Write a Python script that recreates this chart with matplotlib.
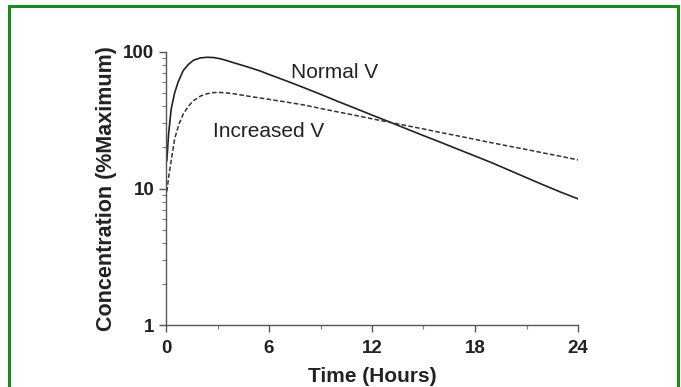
import matplotlib
matplotlib.use("Agg")
import matplotlib.pyplot as plt
from matplotlib.patches import Rectangle
from matplotlib.ticker import FixedLocator, NullFormatter, LogLocator

plt.rcParams['font.family'] = ['Liberation Sans', 'DejaVu Sans']

# Data
t_normal = [0.05, 0.15, 0.3, 0.5, 0.7, 1.0, 1.3, 1.6, 2.0, 2.4, 2.8, 3.2, 3.6, 4.0,
            4.5, 5.0, 5.5, 6, 7, 8, 9, 10, 11, 12, 13, 14, 15, 16, 17, 18, 19,
            20, 21, 22, 23, 24]
c_normal = [16, 25, 38, 50, 60, 73, 81, 87, 90.5, 91.5, 91, 89, 86, 83,
            79.5, 76, 72.5, 68.5, 61.5, 55, 49, 43.5, 38.8, 34.5, 30.8, 27.4, 24.4,
            21.8, 19.4, 17.3, 15.4, 13.6, 12, 10.6, 9.4, 8.4]

t_incr = [0.05, 0.15, 0.25, 0.5, 0.75, 1.0, 1.3, 1.6, 2.0, 2.4, 2.8, 3.2, 3.6, 4,
          5, 6, 7, 8, 9, 10, 11, 12, 13, 14, 15, 16, 17, 18, 19, 20, 21, 22, 23, 24]
c_incr = [9.5, 12, 14.5, 23, 29.5, 35, 40, 44, 47.5, 49.5, 50.5, 50.5, 50, 49.3,
          47, 45, 43, 41, 38.6, 36.4, 34.4, 32.4, 30.6, 28.9, 27.3, 25.7, 24.3,
          22.9, 21.6, 20.4, 19.3, 18.2, 17.2, 16.2]

x_ticks = [0, 6, 12, 18, 24]
x_minor = [3, 9, 15, 21]
y_ticks = [1, 10, 100]
y_ticklabels = ["1", "10", "100"]

fig = plt.figure(figsize=(6.81, 3.87), dpi=100)
fig.patch.set_facecolor('white')
fig.patches.append(Rectangle((9 / 681, -0.05), (678 - 9) / 681, 1.05 - 6 / 387,
                             transform=fig.transFigure, fill=False,
                             edgecolor='#1e8a1e', linewidth=2.2))

ax = fig.add_axes([166 / 681, 1 - 325 / 387, (578 - 166) / 681, (325 - 52) / 387])
ax.plot(t_normal, c_normal, color='#222222', lw=1.2, solid_joinstyle='round')
ax.plot(t_incr, c_incr, color='#333333', lw=1.1, linestyle=(0, (3, 1.5)))

ax.set_yscale('log')
ax.set_xlim(0, 24)
ax.set_ylim(1, 100)
for s in ['top', 'right']:
    ax.spines[s].set_visible(False)
for s in ['left', 'bottom']:
    ax.spines[s].set_color('#555555')
    ax.spines[s].set_linewidth(1.0)

ax.xaxis.set_major_locator(FixedLocator(x_ticks))
ax.xaxis.set_minor_locator(FixedLocator(x_minor))
ax.set_xticklabels([str(v) for v in x_ticks])
ax.yaxis.set_major_locator(FixedLocator(y_ticks))
ax.set_yticklabels(y_ticklabels)
ax.yaxis.set_minor_locator(LogLocator(base=10, subs=range(2, 10)))
ax.yaxis.set_minor_formatter(NullFormatter())

ax.tick_params(axis='both', which='major', direction='out', length=5, width=1.0,
               color='#555555', labelsize=13.5, labelcolor='#222222')
ax.tick_params(axis='x', which='major', pad=6)
ax.tick_params(axis='y', which='major', pad=3.5)
ax.tick_params(axis='both', which='minor', direction='out', length=3, width=0.8,
               color='#777777')
for lab in ax.get_xticklabels() + ax.get_yticklabels():
    lab.set_fontweight('bold')

ax.set_xlabel('Time (Hours)', fontsize=15, fontweight='bold', color='#222222', labelpad=7)
ax.set_ylabel('Concentration (%Maximum)', fontsize=15.5, fontweight='bold', color='#222222',
              labelpad=4.5)

ax.text(7.3, 71, 'Normal V', fontsize=15, color='#222222', va='center', ha='left')
ax.text(2.75, 26.2, 'Increased V', fontsize=15, color='#222222', va='center', ha='left')

fig.savefig('out.png', dpi=100)
